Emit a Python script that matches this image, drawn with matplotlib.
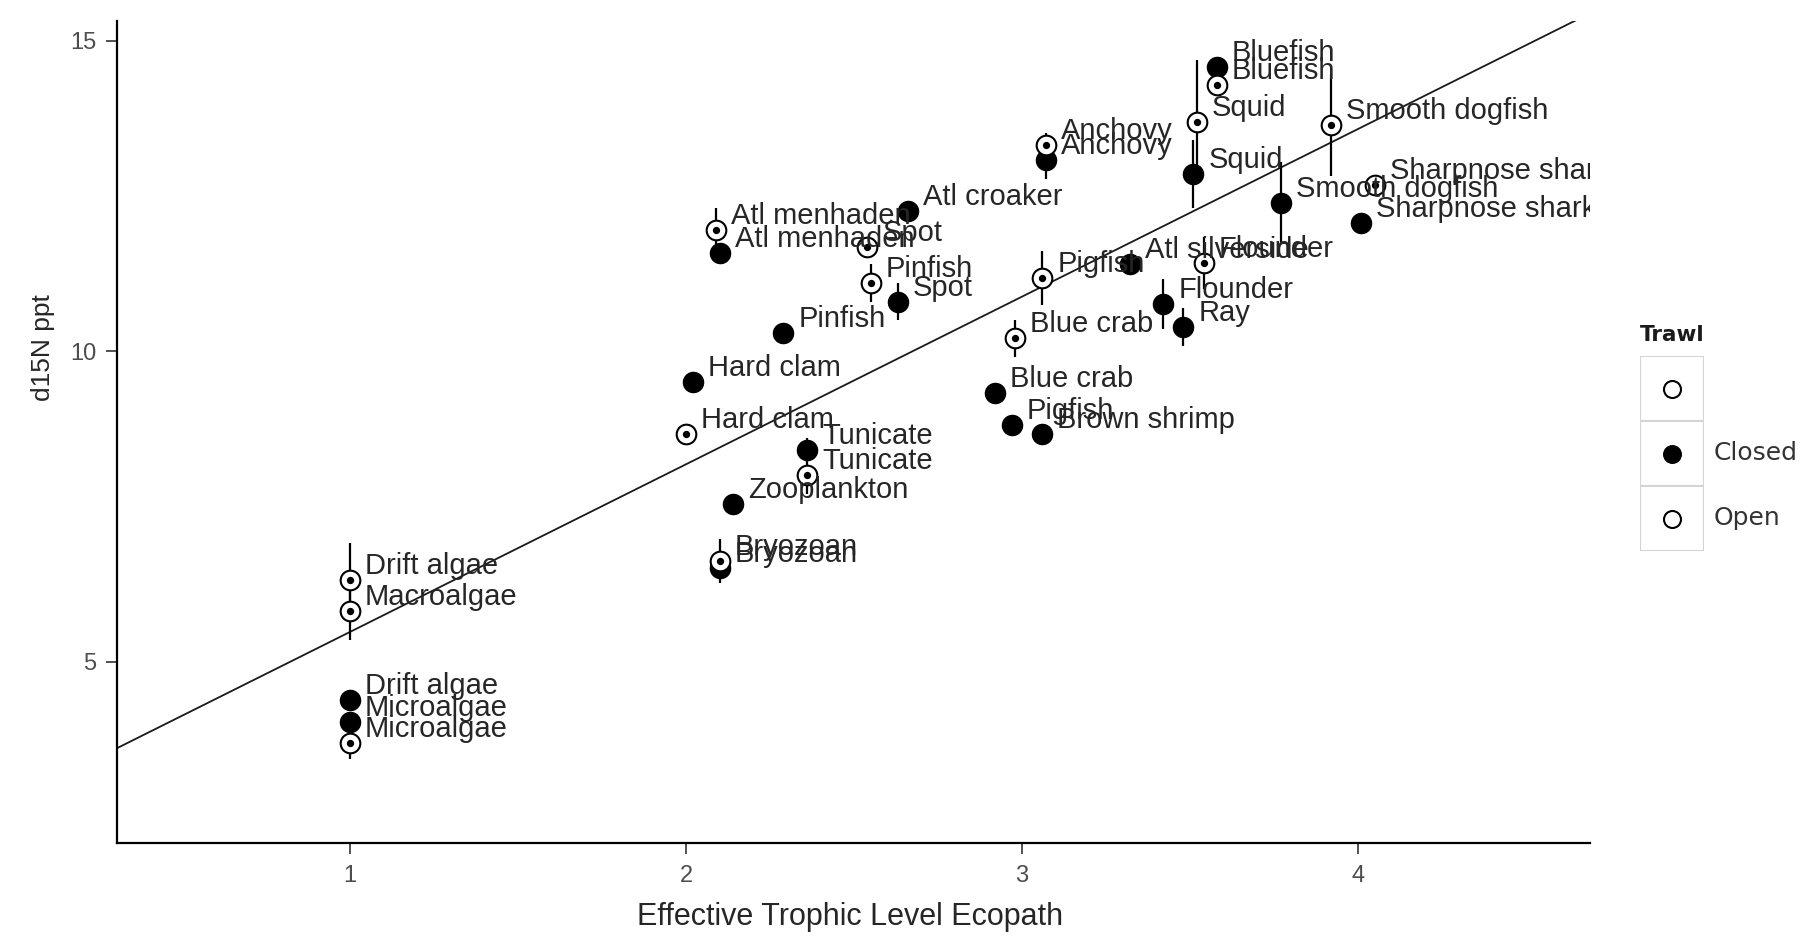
import numpy as np
import matplotlib
matplotlib.use('Agg')
import matplotlib.pyplot as plt
import matplotlib.transforms as mtransforms
from matplotlib.patches import Rectangle

plt.rcParams['font.family'] = ['Liberation Sans', 'DejaVu Sans']

# closed trawl samples
closed_names = ['Bluefish', 'Anchovy', 'Squid', 'Smooth dogfish', 'Atl croaker',
                'Sharpnose shark', 'Atl menhaden', 'Atl silverside', 'Spot', 'Flounder',
                'Ray', 'Pinfish', 'Hard clam', 'Blue crab', 'Pigfish', 'Brown shrimp',
                'Tunicate', 'Zooplankton', 'Bryozoan', 'Drift algae', 'Microalgae']
closed_tl = [3.58, 3.07, 3.51, 3.77, 2.66, 4.01, 2.10, 3.32, 2.63, 3.42,
             3.48, 2.29, 2.02, 2.92, 2.97, 3.06, 2.36, 2.14, 2.10, 1.0, 1.0]
closed_d15n = [14.57, 13.08, 12.85, 12.39, 12.26, 12.07, 11.59, 11.40, 10.80, 10.76,
               10.39, 10.30, 9.51, 9.33, 8.82, 8.66, 8.41, 7.54, 6.51, 4.38, 4.03]
closed_err = [0.0, 0.3, 0.55, 0.65, 0.0, 0.0, 0.0, 0.0, 0.3, 0.4,
              0.3, 0.0, 0.0, 0.0, 0.0, 0.0, 0.2, 0.0, 0.15, 0.0, 0.0]

# open trawl samples
open_names = ['Bluefish', 'Squid', 'Smooth dogfish', 'Anchovy', 'Sharpnose shark',
              'Atl menhaden', 'Spot', 'Flounder', 'Pigfish', 'Pinfish', 'Blue crab',
              'Hard clam', 'Tunicate', 'Bryozoan', 'Drift algae', 'Macroalgae', 'Microalgae']
open_tl = [3.58, 3.52, 3.92, 3.07, 4.05, 2.09, 2.54, 3.54, 3.06, 2.55, 2.98,
           2.0, 2.36, 2.10, 1.0, 1.0, 1.0]
open_d15n = [14.29, 13.69, 13.64, 13.32, 12.67, 11.96, 11.68, 11.42, 11.18, 11.10, 10.21,
             8.66, 8.00, 6.62, 6.32, 5.82, 3.69]
open_err = [0.1, 1.0, 0.82, 0.2, 0.1, 0.35, 0.1, 0.42, 0.44, 0.3, 0.3,
            0.1, 0.3, 0.35, 0.6, 0.47, 0.25]

# regression line
fit_intercept = 2.78
fit_slope = 2.70

legend_labels = ['', 'Closed', 'Open']

fig = plt.figure(figsize=(18.17, 9.48), dpi=100)
ax = fig.add_axes([117/1817, 1-842.5/948, 1473/1817, 821.6/948])
ax.set_xlim(0.307, 4.69)
ax.set_ylim(2.09, 15.32)

xx = np.array(ax.get_xlim())
ax.plot(xx, fit_intercept + fit_slope*xx, color='#1a1a1a', lw=1.3, zorder=1)

ax.errorbar(closed_tl, closed_d15n, yerr=closed_err, fmt='none', ecolor='black', elinewidth=1.6, capsize=0, zorder=2)
ax.errorbar(open_tl, open_d15n, yerr=open_err, fmt='none', ecolor='black', elinewidth=1.6, capsize=0, zorder=2)
ax.scatter(closed_tl, closed_d15n, s=210, color='black', zorder=3)
ax.scatter(open_tl, open_d15n, s=200, facecolor='white', edgecolor='black', linewidth=1.5, zorder=3)
ax.scatter(open_tl, open_d15n, s=18, color='black', zorder=4)

trans = mtransforms.offset_copy(ax.transData, fig=fig, x=15, y=14, units='dots')
for n, x, y in zip(closed_names + open_names, closed_tl + open_tl, closed_d15n + open_d15n):
    ax.text(x, y, n, transform=trans, ha='left', va='center', fontsize=21, color='#262626', clip_on=True, zorder=5)

for s in ['top', 'right']:
    ax.spines[s].set_visible(False)
for s in ['left', 'bottom']:
    ax.spines[s].set_linewidth(1.6)
ax.set_xticks([1, 2, 3, 4])
ax.set_yticks([5, 10, 15])
ax.tick_params(length=8, width=1.2, color='#333333', labelsize=17, labelcolor='#4d4d4d')
ax.tick_params(axis='x', pad=8)
ax.tick_params(axis='y', pad=7)
ax.set_xlabel('Effective Trophic Level Ecopath', fontsize=22, color='#262626')
ax.xaxis.set_label_coords(0.4976, -0.072)
ax.set_ylabel('d15N ppt', fontsize=19, color='#262626')
ax.yaxis.set_label_coords(-0.0424, 0.602)

# legend drawn as small key boxes
lax = fig.add_axes([1640/1817, 1-551/948, 64/1817, 195/948])
lax.set_xlim(0, 1)
lax.set_ylim(0, 3)
lax.axis('off')
for i, lab in enumerate(legend_labels):
    yc = 2.5 - i
    lax.add_patch(Rectangle((0, yc-0.5), 1, 1, facecolor='white', edgecolor='#d4d4d4', lw=1.5))
    if lab == 'Closed':
        lax.scatter([0.5], [yc], s=160, color='black', clip_on=False)
    else:
        lax.scatter([0.5], [yc], s=150, facecolor='white', edgecolor='black', linewidth=1.5, clip_on=False)
    lax.text(1.15, yc, lab, ha='left', va='center', fontsize=18, color='#333333', family='DejaVu Sans')
lax.text(0.0, 3.33, 'Trawl', ha='left', va='center', fontsize=15.5, fontweight='bold', color='#1a1a1a', family='DejaVu Sans')

fig.savefig('out.png', dpi=100)
